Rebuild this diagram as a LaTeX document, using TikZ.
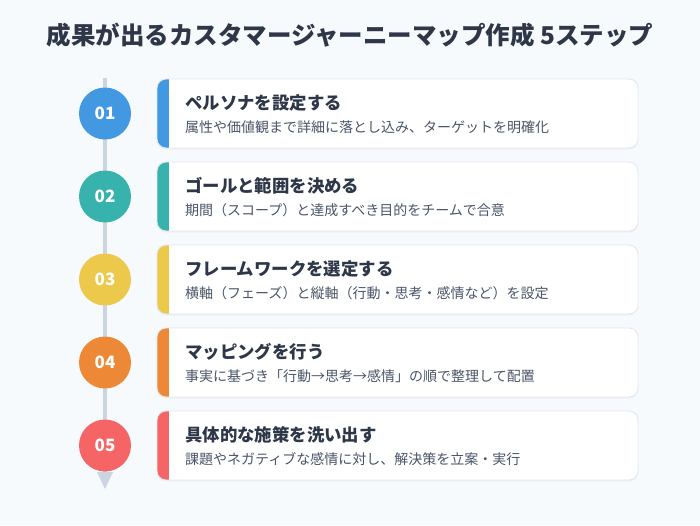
\documentclass[tikz,border=0pt]{standalone}
\usepackage{fontspec}
\setmainfont{Noto Sans CJK JP}
\definecolor{bg}{HTML}{F7FAFC}
\definecolor{ink}{HTML}{2D3748}
\definecolor{sub}{HTML}{4A5568}
\definecolor{rail}{HTML}{CBD5E0}
\definecolor{edge}{HTML}{E2E8F0}
\definecolor{cA}{HTML}{4299E1}
\definecolor{cB}{HTML}{38B2AC}
\definecolor{cC}{HTML}{ECC94B}
\definecolor{cD}{HTML}{ED8936}
\definecolor{cE}{HTML}{F56565}
\begin{document}
\begin{tikzpicture}[x=1pt,y=-1pt,
  titletext/.style={font=\bfseries\fontsize{24.5}{28}\selectfont, text=ink},
  steptitle/.style={anchor=west, inner sep=0pt, font=\bfseries\fontsize{17.4}{20}\selectfont, text=ink},
  stepsub/.style={anchor=west, inner sep=0pt, font=\fontsize{14}{17}\selectfont, text=sub},
  badge/.style={circle, minimum size=52pt, inner sep=0pt, text=white, font=\bfseries\fontsize{17}{19}\selectfont},
  card/.style={rounded corners=9pt}
]
\useasboundingbox (0,0) rectangle (700,525);
\fill[bg] (0,0) rectangle (700,525);
\node[titletext] (title) at (350,35) {成果が出るカスタマージャーニーマップ作成 5ステップ};
% timeline rail
\coordinate (railtop) at (105,78);
\coordinate (railend) at (105,473);
\draw[rail, line width=4pt] (railtop) -- (railend);
\fill[rail] (97,472) -- (113,472) -- (105,489) -- cycle;
\foreach \i/\col/\t/\s in {
  1/cA/ペルソナを設定する/属性や価値観まで詳細に落とし込み、ターゲットを明確化,
  2/cB/ゴールと範囲を決める/期間（スコープ）と達成すべき目的をチームで合意,
  3/cC/フレームワークを選定する/横軸（フェーズ）と縦軸（行動・思考・感情など）を設定,
  4/cD/マッピングを行う/事実に基づき「行動→思考→感情」の順で整理して配置,
  5/cE/具体的な施策を洗い出す/課題やネガティブな感情に対し、解決策を立案・実行}{
  \pgfmathsetmacro{\top}{79+83*(\i-1)}
  \pgfmathsetmacro{\bot}{\top+69}
  \pgfmathsetmacro{\mid}{\top+34.5}
  % shadow
  \fill[black!6, card] (157,\top+1.5) rectangle (638,\bot+1.5);
  \fill[white, card] (157,\top) rectangle (638,\bot);
  \begin{scope}
    \clip[card] (157,\top) rectangle (638,\bot);
    \fill[\col] (157,\top) rectangle (169,\bot);
  \end{scope}
  \draw[edge, line width=0.9pt, card] (157,\top) rectangle (638,\bot);
  \node[steptitle] (t\i) at (185,\top+24) {\t};
  \node[stepsub] (s\i) at (185,\top+48) {\s};
  \node[badge, fill=\col] (b\i) at (105,\mid) {0\i};
}
\end{tikzpicture}
\end{document}
